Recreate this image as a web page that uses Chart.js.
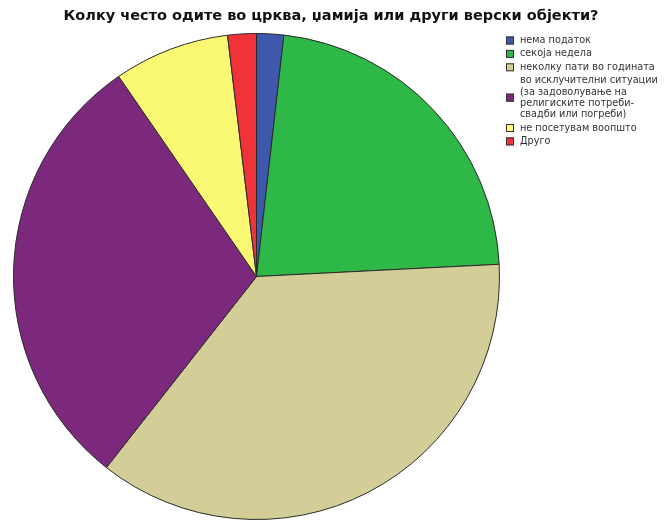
<!DOCTYPE html>
<html>
<head>
<meta charset="utf-8">
<script src="https://cdn.jsdelivr.net/npm/chart.js@4"></script>
<style>
    html, body { margin: 0; padding: 0; background: #fff; }
    #wrap { width: 665px; height: 525px; }
</style>
</head>
<body>
<div id="wrap"><canvas id="chart" width="665" height="525"></canvas></div>
<script>
// data (percent of respondents)
var titleText = "Колку често одите во црква, џамија или други верски објекти?";
var categories = [
    "нема податок",
    "секоја недела",
    "неколку пати во годината",
    "во исклучителни ситуации\n(за задоволување на\nрелигиските потреби-\nсвадби или погреби)",
    "не посетувам воопшто",
    "Друго"
];
var shares = [1.8, 22.4, 36.4, 29.8, 7.7, 1.9];
var colors = ["#3E58AC", "#2EB848", "#D3CE97", "#7C287D", "#FBF873", "#EF3338"];

// title + legend drawn by hand, legend entries can wrap over several lines
var decorPlugin = {
    id: "decor",
    afterDraw: function (chart) {
        var ctx = chart.ctx;
        ctx.save();
        ctx.fillStyle = "#111";
        ctx.font = "bold 14.5px 'DejaVu Sans', Verdana, sans-serif";
        ctx.textAlign = "center";
        ctx.textBaseline = "middle";
        ctx.fillText(titleText, 331, 16);

        ctx.font = "9.7px 'DejaVu Sans', Verdana, sans-serif";
        ctx.textAlign = "left";
        var y = 40.5;
        var lineH = 11.3;   // wrapped lines inside one entry
        var entryGap = 13.4; // from one entry to the next
        chart.data.labels.forEach(function (label, i) {
            var lines = label.split("\n");
            var mid = y + (lines.length - 1) * lineH / 2;
            ctx.fillStyle = colors[i];
            ctx.fillRect(506, mid - 4, 8, 8);
            ctx.strokeStyle = "#333";
            ctx.lineWidth = 1;
            ctx.strokeRect(506.5, mid - 3.5, 7, 7);
            ctx.fillStyle = "#333";
            lines.forEach(function (line, j) {
                ctx.fillText(line, 520, y + j * lineH);
            });
            y += (lines.length - 1) * lineH + entryGap;
        });
        ctx.restore();
    }
};

new Chart(document.getElementById("chart"), {
    type: "pie",
    data: {
        labels: categories,
        datasets: [{
            data: shares,
            backgroundColor: colors,
            borderColor: "#2a2a2a",
            borderWidth: 1
        }]
    },
    options: {
        responsive: false,
        animation: false,
        layout: {
            padding: {top: 33, bottom: 5, left: 13, right: 165}
        },
        plugins: {
            legend: {display: false},
            tooltip: {enabled: false}
        }
    },
    plugins: [decorPlugin]
});
</script>
</body>
</html>
